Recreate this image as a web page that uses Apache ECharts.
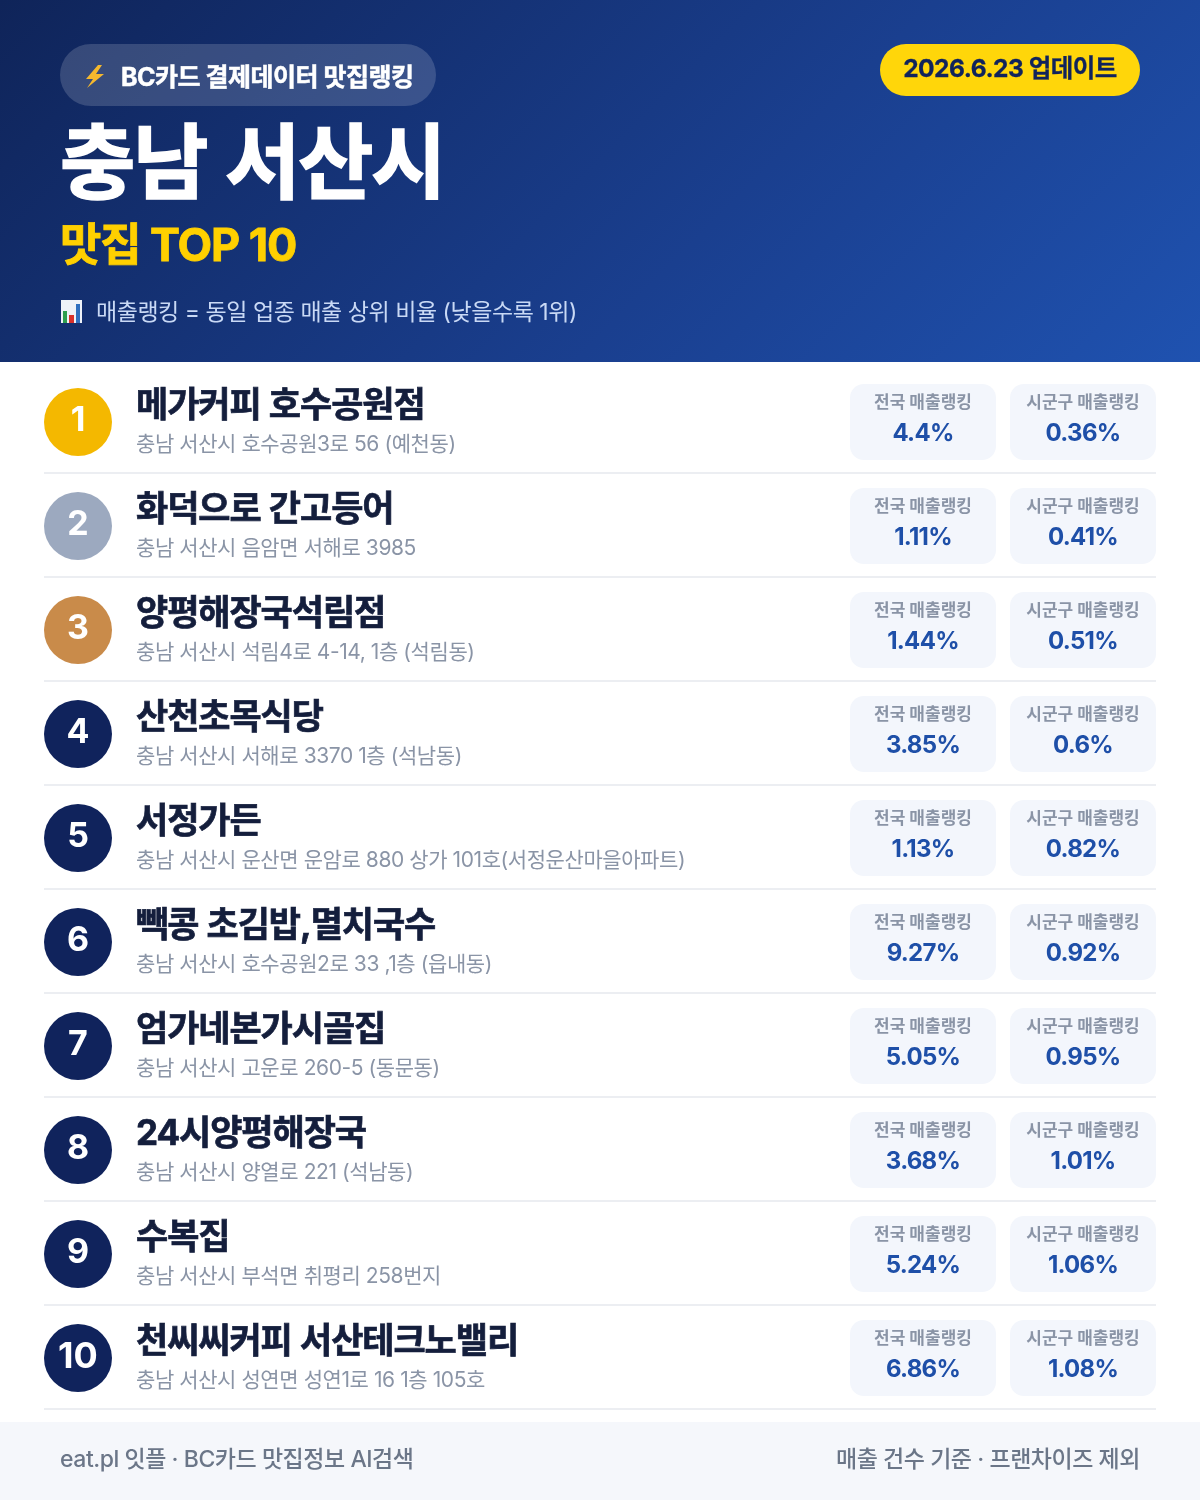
<!DOCTYPE html>
<html><head><meta charset="utf-8">
<style>html,body{margin:0;padding:0;background:#fff}#c{width:1200px;height:1500px}</style>
<script src="https://cdn.jsdelivr.net/npm/echarts@6/dist/echarts.min.js"></script>
</head><body><div id="c"></div>
<script>
const ranks = [1,2,3,4,5,6,7,8,9,10];
const names = ['메가커피 호수공원점','화덕으로 간고등어','양평해장국석림점','산천초목식당','서정가든','빽콩 초김밥,멸치국수','엄가네본가시골집','24시양평해장국','수복집','천씨씨커피 서산테크노밸리'];
const addresses = ['충남 서산시 호수공원3로 56 (예천동)','충남 서산시 음암면 서해로 3985','충남 서산시 석림4로 4-14, 1층 (석림동)','충남 서산시 서해로 3370 1층 (석남동)','충남 서산시 운산면 운암로 880 상가 101호(서정운산마을아파트)','충남 서산시 호수공원2로 33 ,1층 (읍내동)','충남 서산시 고운로 260-5 (동문동)','충남 서산시 양열로 221 (석남동)','충남 서산시 부석면 취평리 258번지','충남 서산시 성연면 성연1로 16 1층 105호'];
const nationalRank = ['4.4%','1.11%','1.44%','3.85%','1.13%','9.27%','5.05%','3.68%','5.24%','6.86%'];
const localRank = ['0.36%','0.41%','0.51%','0.6%','0.82%','0.92%','0.95%','1.01%','1.06%','1.08%'];
const rankColors = ['#f4b800','#9ca9bf','#c98b4a','#10235c'];
const FONT = 'Inter,"Noto Sans CJK KR",sans-serif';
// letter and word spacing keyed by font size (ECharts text has no such option): [em, px]
const spacing = {82:[-0.03,2],35:[-0.03,1],45:[-0.025,0],25:[-0.02,0],24.5:[-0.02,0],24:[-0.03,0],21:[-0.02,0],23:[-0.02,0]};
function spaced(native){
  return function(t,x,y,m){
    const s = parseFloat((/([\d.]+)px/.exec(this.font)||[0,0])[1]);
    const sp = spacing[s]||[0,0];
    this.letterSpacing = (sp[0]*s)+'px';
    this.wordSpacing = sp[1]+'px';
    if(m===undefined) native.call(this,t,x,y); else native.call(this,t,x,y,m);
    this.letterSpacing = '0px';
    this.wordSpacing = '0px';
  };
}
CanvasRenderingContext2D.prototype.fillText = spaced(CanvasRenderingContext2D.prototype.fillText);
CanvasRenderingContext2D.prototype.strokeText = spaced(CanvasRenderingContext2D.prototype.strokeText);
const chart = echarts.init(document.getElementById('c'),null,{renderer:'canvas',width:1200,height:1500});
const T=(x,y,text,size,weight,fill,align,sw)=>({type:'text',x,y,style:Object.assign({text,fontFamily:FONT,fontSize:size,fontWeight:weight,fill,align:align||'left',verticalAlign:'middle'},sw?{stroke:fill,lineWidth:sw}:{})});
function renderRow(params,api){
  const i=api.value(1);
  const y=api.coord([0,i])[1], x0=api.coord([0,i])[0];
  const X=v=>x0+v;
  const color=i<3?rankColors[i]:rankColors[3];
  const card=(x,label,val)=>[
    {type:'rect',shape:{x:X(x),y:y-38,width:146,height:76,r:14},style:{fill:'#f3f6fc'}},
    T(X(x+73),y-19,label,17,700,'#8a94a6','center'),
    T(X(x+73),y+12,val,24,700,'#1e4fa8','center')
  ];
  return {type:'group',children:[
    {type:'rect',shape:{x:X(44),y:y+50,width:1112,height:2},style:{fill:'#eceef2'}},
    {type:'circle',shape:{cx:X(78),cy:y,r:34},style:{fill:color}},
    T(X(78),y-1,String(ranks[i]),i===9?36:34,700,'#fff','center'),
    T(X(136),y-16,names[i],35,700,'#141e3c','left',0.7),
    T(X(136),y+23,addresses[i],21,400,'#8a94a6'),
    ...card(850,'전국 매출랭킹',nationalRank[i]),
    ...card(1010,'시군구 매출랭킹',localRank[i])
  ]};
}
chart.setOption({
  animation:false,
  backgroundColor:'#ffffff',
  grid:{left:0,right:0,top:370,height:1040},
  xAxis:{type:'value',min:0,max:1200,show:false},
  yAxis:{type:'category',data:names,inverse:true,show:false},
  series:[{type:'custom',coordinateSystem:'cartesian2d',silent:true,renderItem:renderRow,
    data:ranks.map((r,i)=>[0,i]),encode:{x:0,y:1},clip:false,z:5}],
  graphic:{elements:[
    {type:'rect',shape:{x:0,y:0,width:1200,height:362},style:{fill:new echarts.graphic.LinearGradient(209.5,-209.5,990.5,571.5,[{offset:0,color:'#0f2459'},{offset:0.6,color:'#1a3f8f'},{offset:1,color:'#1f52b0'}],true)}},
    {type:'rect',shape:{x:60,y:44,width:376,height:62,r:31},style:{fill:'rgba(255,255,255,0.16)'}},
    {type:'polygon',shape:{points:[[98,65],[86,79],[93,79],[87,88],[104,74],[96,74],[102,65]]},style:{fill:'#f5b82e'}},
    T(121,78,'BC카드 결제데이터 맛집랭킹',25,700,'#ffffff','left',0.5),
    {type:'rect',shape:{x:880,y:44,width:260,height:52,r:26},style:{fill:'#ffd60a'}},
    T(1010,70,'2026.6.23 업데이트',24.5,700,'#10235c','center',0.3),
    T(60,167,'충남 서산시',82,700,'#ffffff','left',1.6),
    T(60,247,'맛집 TOP 10',45,700,'#ffd000','left',0.8),
    {type:'rect',shape:{x:61,y:300,width:21,height:23},style:{fill:'#eef2f8'}},
    {type:'rect',shape:{x:63,y:311,width:4,height:12},style:{fill:'#2e9e4f'}},
    {type:'rect',shape:{x:69,y:315,width:5,height:8},style:{fill:'#d9312b'}},
    {type:'rect',shape:{x:76,y:304,width:4,height:19},style:{fill:'#2f6fbf'}},
    T(96,313,'매출랭킹 = 동일 업종 매출 상위 비율 (낮을수록 1위)',23,400,'#c9d9f5'),
    {type:'rect',shape:{x:0,y:1422,width:1200,height:78},style:{fill:'#f5f7fb'}},
    T(60,1460,'eat.pl 잇플 · BC카드 맛집정보 AI검색',23,500,'#6b7688'),
    T(1140,1460,'매출 건수 기준 · 프랜차이즈 제외',23,500,'#6b7688','right')
  ]}
});
</script></body></html>
